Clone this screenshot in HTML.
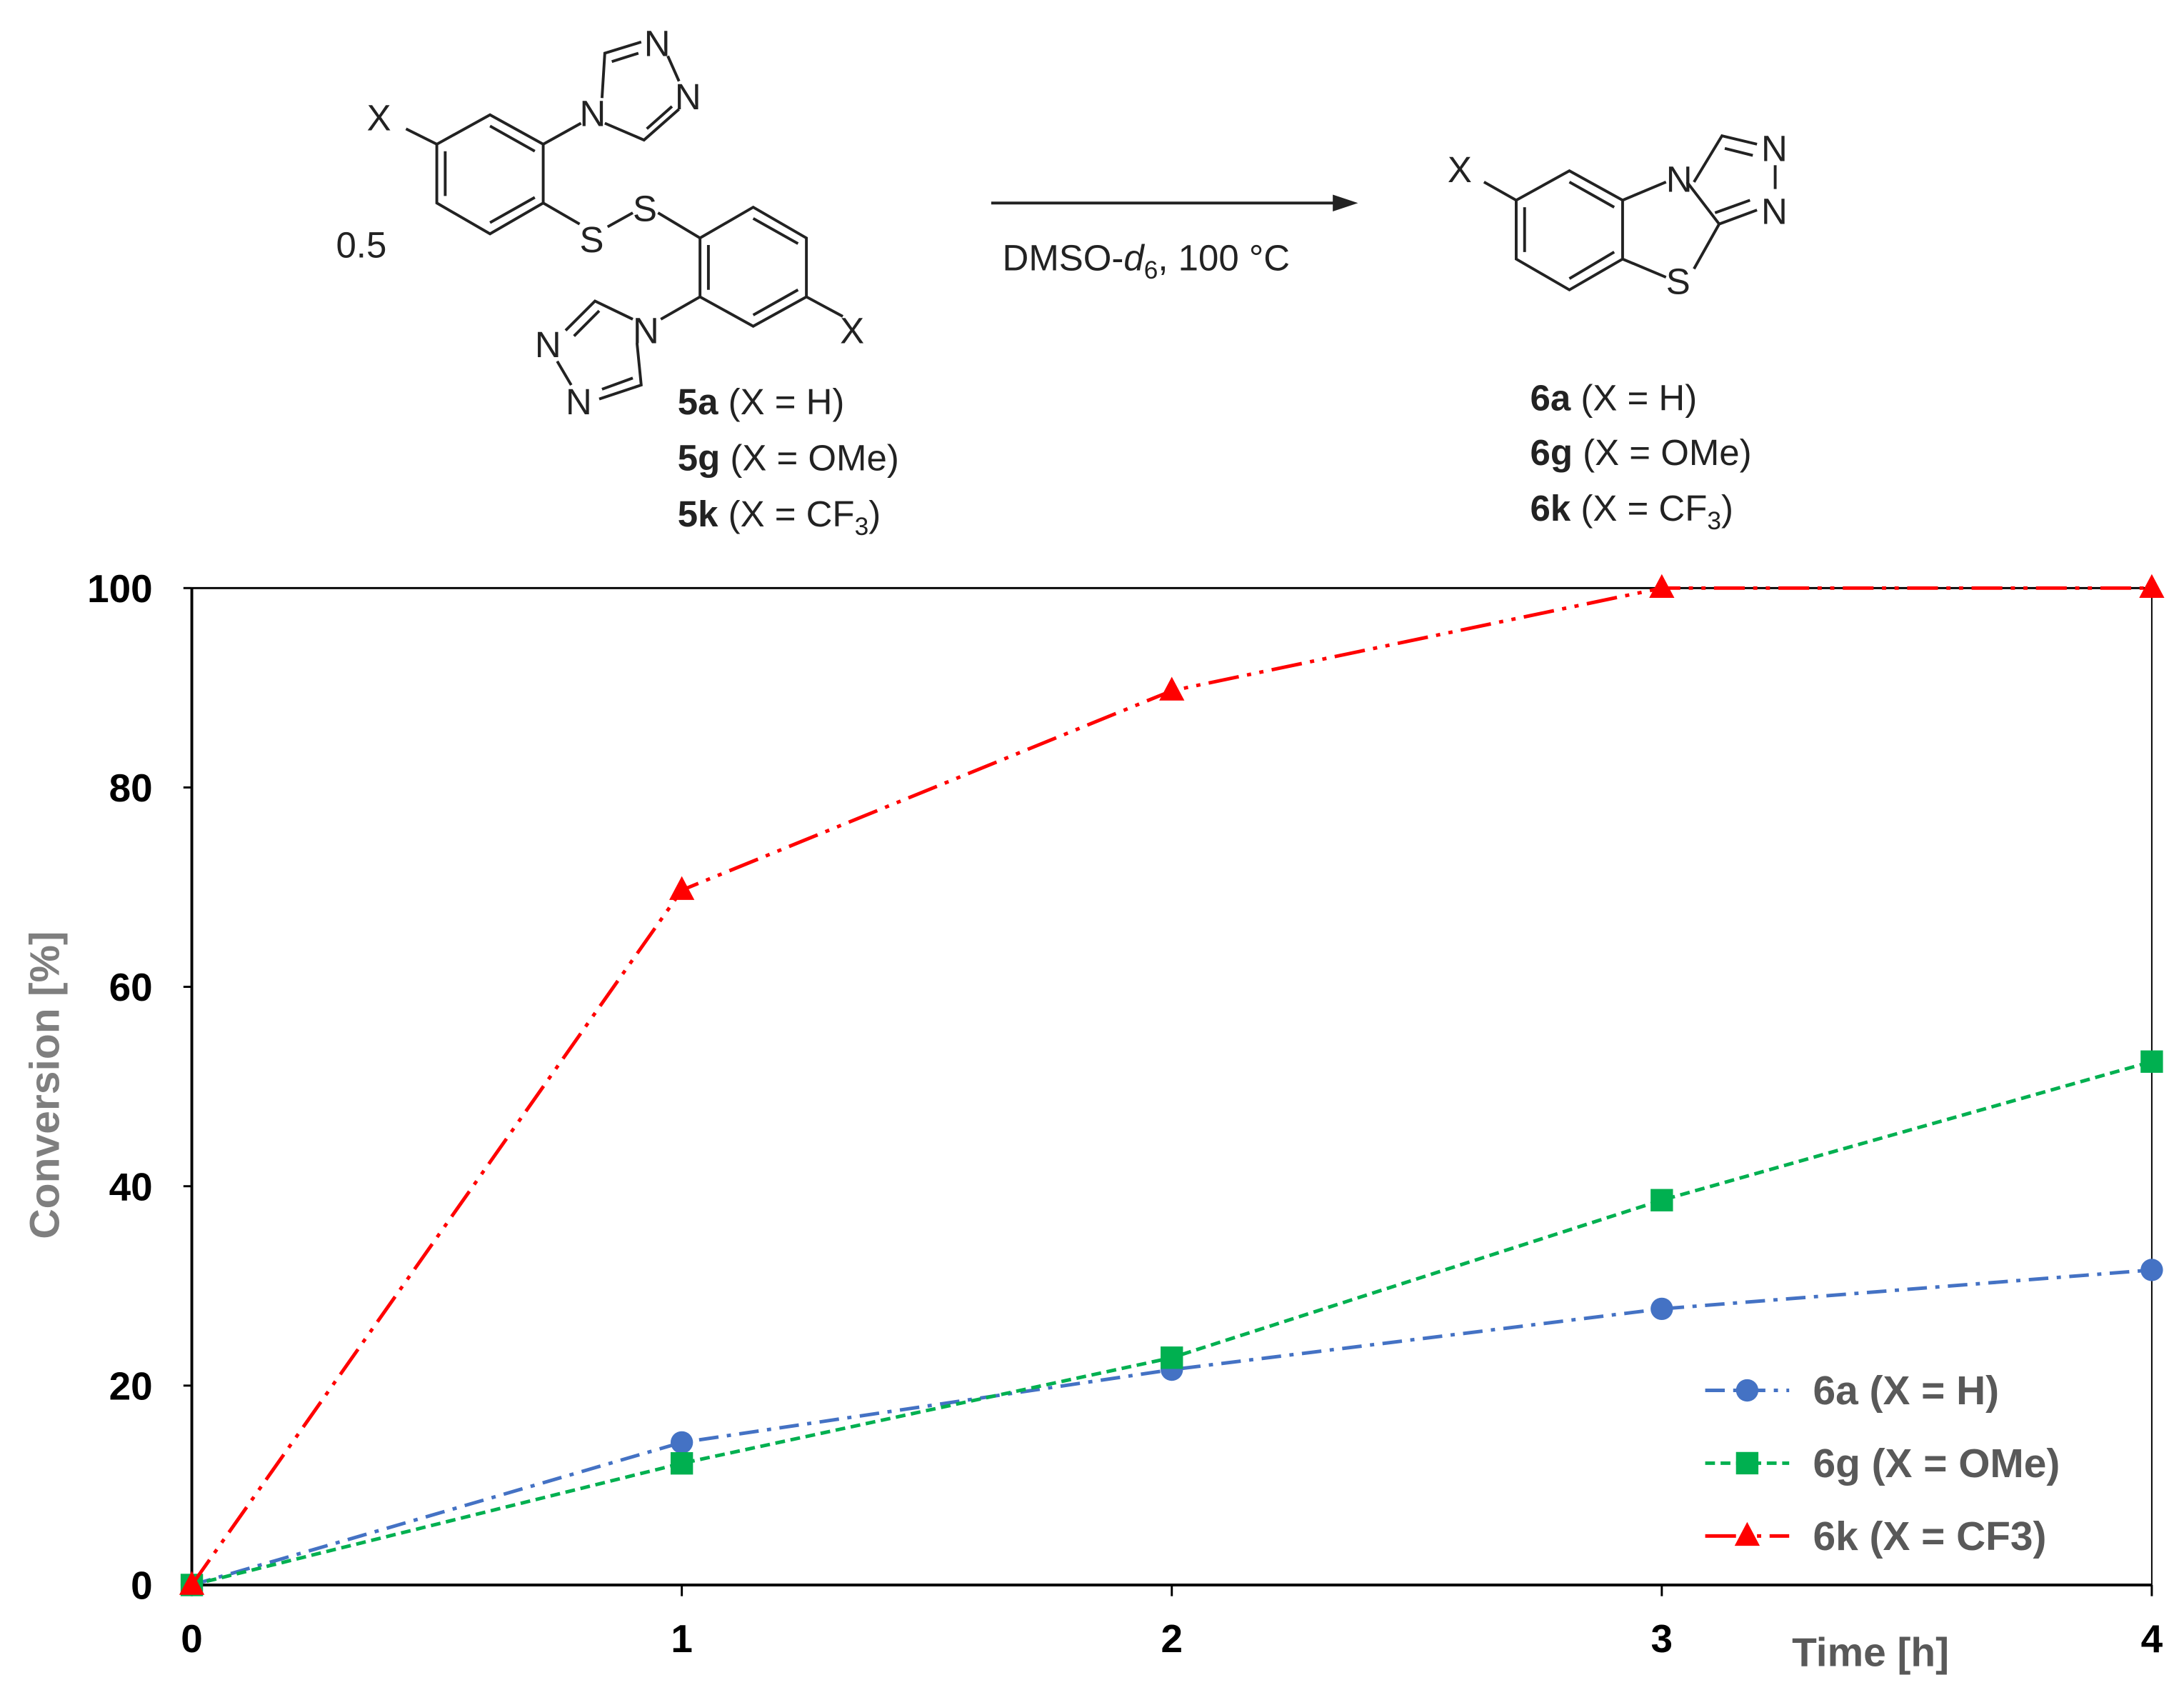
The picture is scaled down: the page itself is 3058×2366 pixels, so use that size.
<!DOCTYPE html>
<html><head><meta charset="utf-8"><style>
html,body{margin:0;padding:0;background:#fff;}
svg{display:block;}
text{font-family:"Liberation Sans",sans-serif;}
</style></head><body>
<svg width="3058" height="2366" viewBox="0 0 1560 1207" xmlns="http://www.w3.org/2000/svg">
<g stroke="#222" stroke-width="2" fill="none">
  <polygon points="312,103 350,82 388,103 388,145 350,167 312,145"/>
  <line x1="318" y1="108" x2="318" y2="140"/><line x1="350" y1="90" x2="382" y2="108"/><line x1="350" y1="159" x2="382" y2="141"/>
  <line x1="312" y1="103" x2="290" y2="92"/>
  <line x1="388" y1="103" x2="415" y2="88"/>
  <polyline points="430,70 432,38 458,30"/><line x1="437" y1="44" x2="456" y2="38"/>
  <polyline points="432,88 460,100 485,78"/><line x1="462" y1="92" x2="480" y2="76"/>
  <line x1="485" y1="58" x2="477" y2="40"/>
  <line x1="388" y1="145" x2="414" y2="160"/><line x1="434" y1="162" x2="452" y2="152"/>
  <line x1="470" y1="152" x2="500" y2="170"/>
  <polygon points="500,170 538,148 576,170 576,212 538,233 500,212"/>
  <line x1="506" y1="175" x2="506" y2="207"/><line x1="538" y1="156" x2="570" y2="174"/><line x1="538" y1="225" x2="570" y2="207"/>
  <line x1="576" y1="212" x2="602" y2="226"/>
  <line x1="500" y1="212" x2="472" y2="228"/>
  <polyline points="452,228 425,215 404,236"/><line x1="428" y1="222" x2="410" y2="240"/>
  <polyline points="455,245 458,275 428,285"/><line x1="452" y1="270" x2="430" y2="278"/>
  <line x1="398" y1="258" x2="408" y2="275"/>
  <polygon points="1083,143 1121,122 1159,143 1159,185 1121,207 1083,185"/>
  <line x1="1089" y1="148" x2="1089" y2="180"/><line x1="1121" y1="130" x2="1153" y2="148"/><line x1="1121" y1="199" x2="1153" y2="180"/>
  <line x1="1083" y1="143" x2="1060" y2="130"/>
  <line x1="1159" y1="143" x2="1190" y2="130"/>
  <line x1="1159" y1="185" x2="1190" y2="198"/>
  <polyline points="1210,130 1230,97 1255,103"/><line x1="1232" y1="106" x2="1252" y2="111"/>
  <polyline points="1210,192 1228,160 1205,130"/><line x1="1228" y1="160" x2="1255" y2="150"/><line x1="1225" y1="152" x2="1250" y2="143"/>
  <line x1="1268" y1="118" x2="1268" y2="135"/>
  <line x1="708" y1="145" x2="958" y2="145"/>
</g>
<polygon points="970,145 952,139 952,151" fill="#222"/>
<g font-size="26" fill="#222">
  <text x="262" y="93">X</text><text x="414" y="90">N</text><text x="460" y="40">N</text><text x="482" y="78">N</text>
  <text x="414" y="180">S</text><text x="452" y="158">S</text>
  <text x="600" y="245">X</text><text x="452" y="245">N</text><text x="382" y="255">N</text><text x="404" y="296">N</text>
  <text x="240" y="184">0.5</text>
  <text x="484" y="296"><tspan font-weight="bold">5a</tspan> (X = H)</text>
  <text x="484" y="336"><tspan font-weight="bold">5g</tspan> (X = OMe)</text>
  <text x="484" y="376"><tspan font-weight="bold">5k</tspan> (X = CF<tspan font-size="18" dy="6">3</tspan><tspan dy="-6">)</tspan></text>
  <text x="716" y="193">DMSO-<tspan font-style="italic">d</tspan><tspan font-size="18" dy="6">6</tspan><tspan dy="-6">, 100 °C</tspan></text>
  <text x="1034" y="130">X</text><text x="1190" y="137">N</text><text x="1190" y="210">S</text><text x="1258" y="115">N</text><text x="1258" y="160">N</text>
  <text x="1093" y="293"><tspan font-weight="bold">6a</tspan> (X = H)</text>
  <text x="1093" y="332"><tspan font-weight="bold">6g</tspan> (X = OMe)</text>
  <text x="1093" y="372"><tspan font-weight="bold">6k</tspan> (X = CF<tspan font-size="18" dy="6">3</tspan><tspan dy="-6">)</tspan></text>
</g>
<g id="chart"></g>
</svg>
<script>
const xValues = [0, 1, 2, 3, 4];
const series6a = [0, 14.3, 21.6, 27.7, 31.6];
const series6g = [0, 12.2, 22.8, 38.6, 52.5];
const series6k = [0, 69.7, 89.7, 100, 100];
const xTicks = [0, 1, 2, 3, 4];
const yTicks = [0, 20, 40, 60, 80, 100];
const NS = 'http://www.w3.org/2000/svg';
const g = document.getElementById('chart');
const L = 137, R = 1537, T = 420, B = 1132;
const sx = v => L + (v - 0) / 4 * (R - L);
const sy = v => B - v / 100 * (B - T);
function mk(tag, attrs, parent) {
  const e = document.createElementNS(NS, tag);
  for (const k in attrs) e.setAttribute(k, attrs[k]);
  (parent || g).appendChild(e);
  return e;
}
let e;
e = mk('line', {x1: L, y1: T, x2: R, y2: T, stroke: '#000', 'stroke-width': 1.5});
 
e = mk('line', {x1: R, y1: T, x2: R, y2: B, stroke: '#000', 'stroke-width': 1});
 
e = mk('line', {x1: L, y1: T, x2: L, y2: B, stroke: '#000', 'stroke-width': 2});
 
e = mk('line', {x1: L, y1: B, x2: R, y2: B, stroke: '#000', 'stroke-width': 2});
 
yTicks.forEach(v => {
  let t = mk('line', {x1: L - 6, y1: sy(v), x2: L, y2: sy(v), stroke: '#000', 'stroke-width': 1.5});
   
  let tx = mk('text', {x: L - 28, y: sy(v) + 10, 'text-anchor': 'end', 'font-size': 28, 'font-weight': 'bold', fill: '#000'});
  tx.textContent = v;
   
});
xTicks.forEach(v => {
  let t = mk('line', {x1: sx(v), y1: B, x2: sx(v), y2: B + 8, stroke: '#000', 'stroke-width': 1.5});
   
  let tx = mk('text', {x: sx(v), y: B + 48, 'text-anchor': 'middle', 'font-size': 28, 'font-weight': 'bold', fill: '#000'});
  tx.textContent = v;
   
});
e = mk('text', {x: 0, y: 0, transform: 'translate(42,775) rotate(-90)', 'text-anchor': 'middle', 'font-size': 30, 'font-weight': 'bold', fill: '#7f7f7f'});
e.textContent = 'Conversion [%]';
 
e = mk('text', {x: 1280, y: 1190, 'font-size': 29, 'font-weight': 'bold', fill: '#595959'});
e.textContent = 'Time [h]';
 
const defs = [
  {name: '6a', vals: series6a, color: '#4472c4', dash: '14,6,3,6', marker: 'circle', label: '6a (X = H)'},
  {name: '6g', vals: series6g, color: '#00b050', dash: '7,4', marker: 'square', label: '6g (X = OMe)'},
  {name: '6k', vals: series6k, color: '#ff0000', dash: '22,6,3,6,3,6', marker: 'tri', label: '6k (X = CF3)'}
];
function marker(type, x, y, color) {
  let m;
  if (type === 'circle') m = mk('circle', {cx: x, cy: y, r: 8, fill: color});
  else if (type === 'square') m = mk('rect', {x: x - 8, y: y - 8, width: 16, height: 16, fill: color});
  else m = mk('polygon', {points: `${x},${y - 10} ${x - 9},${y + 7} ${x + 9},${y + 7}`, fill: color});
  return m;
}
defs.forEach(d => {
  const pts = xValues.map((x, i) => sx(x) + ',' + sy(d.vals[i])).join(' ');
  let p = mk('polyline', {points: pts, fill: 'none', stroke: d.color, 'stroke-width': 2.5, 'stroke-dasharray': d.dash});
   
  xValues.forEach((x, i) => {
    let m = marker(d.marker, sx(x), sy(d.vals[i]), d.color);
     
  });
});
defs.forEach((d, i) => {
  const y = 993 + i * 52;
  let l = mk('line', {x1: 1218, y1: y, x2: 1278, y2: y, stroke: d.color, 'stroke-width': 2.5, 'stroke-dasharray': d.dash});
   
  let m = marker(d.marker, 1248, y, d.color);
   
  let t = mk('text', {x: 1295, y: y + 10, 'font-size': 29, 'font-weight': 'bold', fill: '#595959'});
  t.textContent = d.label;
   
});
</script>
</body></html>
